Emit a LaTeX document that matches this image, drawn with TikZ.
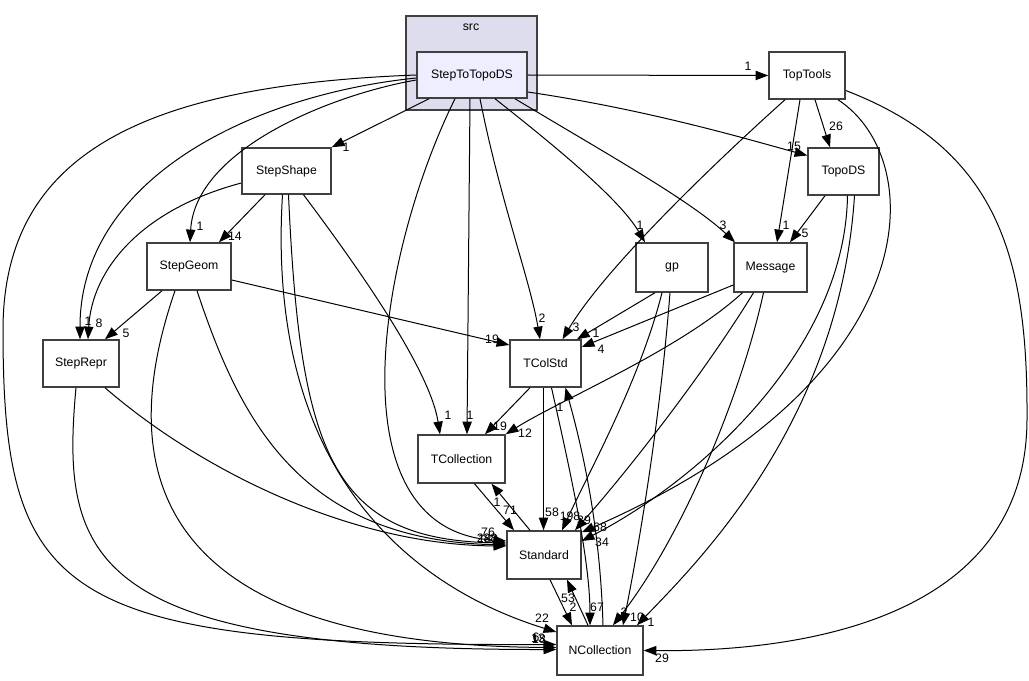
\documentclass[tikz,border=0pt]{standalone}
\usepackage{fontspec}
\setmainfont{Liberation Sans}
\usetikzlibrary{arrows.meta}
\definecolor{srcfill}{HTML}{DDDDEE}
\definecolor{sttfill}{HTML}{EEEEFF}
\definecolor{bord}{HTML}{404040}
\begin{document}
\begin{tikzpicture}[x=0.75pt,y=-0.75pt,
  box/.style={draw=bord,line width=1.1pt,fill=white,inner sep=0pt,font=\fontsize{9.2}{11}\selectfont},
  edge/.style={line width=0.75pt,-{Triangle[length=9.5pt,width=7pt]}},
  lbl/.style={font=\fontsize{9.2}{11}\selectfont,inner sep=0pt}]
\useasboundingbox (0,0) rectangle (1029,681);
\fill[white] (0,0) rectangle (1029,681);
% cluster
\node[draw=bord,line width=1.1pt,fill=srcfill,minimum width=98.25pt,minimum height=70.5pt,inner sep=0pt] (src) at (471.5,63) {};
\node[lbl] (srclbl) at (471,27) {src};
% nodes
\node[box,fill=sttfill,minimum width=82.5pt,minimum height=34.5pt] (stt) at (472,75) {StepToTopoDS};
\node[box,minimum width=57pt,minimum height=35.25pt] (tt) at (807,75.5) {TopTools};
\node[box,minimum width=66.75pt,minimum height=34.5pt] (ss) at (286.5,171) {StepShape};
\node[box,minimum width=53.25pt,minimum height=35.25pt] (td) at (843.5,171.5) {TopoDS};
\node[box,minimum width=63pt,minimum height=35.25pt] (sg) at (189,266.5) {StepGeom};
\node[box,minimum width=54pt,minimum height=36.75pt] (gp) at (672,267.5) {gp};
\node[box,minimum width=54.75pt,minimum height=36.75pt] (msg) at (770.5,267.5) {Message};
\node[box,minimum width=57pt,minimum height=35.25pt] (sr) at (81,363.5) {StepRepr};
\node[box,minimum width=53.25pt,minimum height=35.25pt] (tcs) at (545.5,363.5) {TColStd};
\node[box,minimum width=65.25pt,minimum height=36pt] (tcl) at (461.5,459) {TCollection};
\node[box,minimum width=55.5pt,minimum height=36pt] (std) at (544,555) {Standard};
\node[box,minimum width=64.5pt,minimum height=36.75pt] (nc) at (600,650.5) {NCollection};
% StepToTopoDS edges
\draw[edge] (stt.east) -- (tt.west);
\draw[edge] ([shift={(-43,0)}]stt.south) -- (ss.north east);
\draw[edge] ([shift={(0,17)}]stt.east) .. controls (650,110) and (750,140) .. ([shift={(0,-16)}]td.west);
\draw[edge] ([shift={(0,5)}]stt.west) .. controls (330,95) and (195,150) .. ([shift={(1,0)}]sg.north);
\draw[edge] ([shift={(0,3)}]stt.west) .. controls (250,95) and (80,180) .. ([shift={(-1,0)}]sr.north);
\draw[edge] (stt.west) .. controls (150,85) and (3,150) .. (3,330) .. controls (3,600) and (60,646) .. ([shift={(0,-6)}]nc.west);
\draw[edge] ([shift={(23,0)}]stt.south) .. controls (560,150) and (620,200) .. ([shift={(-27,0)}]gp.north);
\draw[edge] ([shift={(43,0)}]stt.south) .. controls (600,150) and (690,200) .. ([shift={(-35.5,0)}]msg.north);
\draw[edge] ([shift={(8,0)}]stt.south) .. controls (500,200) and (530,280) .. ([shift={(-5.5,0)}]tcs.north);
\draw[edge] ([shift={(-2,0)}]stt.south) -- ([shift={(5.5,0)}]tcl.north);
\draw[edge] ([shift={(-17,0)}]stt.south) .. controls (380,250) and (330,530) .. ([shift={(0,-14)}]std.west);
% TopTools edges
\draw[edge] ([shift={(8,0)}]tt.south) -- ([shift={(-13.5,0)}]td.north);
\draw[edge] ([shift={(-7,0)}]tt.south) -- ([shift={(6.5,0)}]msg.north);
\draw[edge] ([shift={(-22,0)}]tt.south) .. controls (740,140) and (610,260) .. ([shift={(17,0)}]tcs.north);
\draw[edge] ([shift={(31,0)}]tt.south) .. controls (930,160) and (930,380) .. ([shift={(0,2)}]std.north east);
\draw[edge] ([shift={(0,15)}]tt.east) .. controls (1000,150) and (1028,260) .. (1027,420) .. controls (1026,620) and (800,652) .. (nc.east);
% TopoDS edges
\draw[edge] ([shift={(-18.5,0)}]td.south) -- ([shift={(19.5,0)}]msg.north);
\draw[edge] ([shift={(4,0)}]td.south) .. controls (845,350) and (700,480) .. ([shift={(0,-14)}]std.east);
\draw[edge] ([shift={(11,0)}]td.south) .. controls (840,420) and (700,560) .. ([shift={(37,0)}]nc.north);
% StepShape edges
\draw[edge] ([shift={(-21.5,0)}]ss.south) -- ([shift={(30,0)}]sg.north);
\draw[edge] ([shift={(0,12)}]ss.west) .. controls (140,210) and (92,270) .. ([shift={(7,0)}]sr.north);
\draw[edge] ([shift={(17,0)}]ss.south) .. controls (360,270) and (430,370) .. ([shift={(-21.5,0)}]tcl.north);
\draw[edge] ([shift={(2,0)}]ss.south) .. controls (300,450) and (330,540) .. ([shift={(0,-12)}]std.west);
\draw[edge] ([shift={(-4,0)}]ss.south) .. controls (265,480) and (420,590) .. ([shift={(0,-18.5)}]nc.west);
% StepGeom edges
\draw[edge] ([shift={(-27,0)}]sg.south) -- ([shift={(24,0)}]sr.north);
\draw[edge] ([shift={(0,13.5)}]sg.east) -- ([shift={(0,-18.5)}]tcs.west);
\draw[edge] ([shift={(8,0)}]sg.south) .. controls (240,420) and (300,540) .. ([shift={(0,-10)}]std.west);
\draw[edge] ([shift={(-14,0)}]sg.south) .. controls (120,450) and (130,645) .. ([shift={(0,-3)}]nc.west);
% StepRepr edges
\draw[edge] ([shift={(24,0)}]sr.south) .. controls (200,470) and (350,545) .. ([shift={(0,-9)}]std.west);
\draw[edge] ([shift={(-5,0)}]sr.south) .. controls (60,560) and (90,650) .. ([shift={(0,-1)}]nc.west);
% gp edges
\draw[edge] ([shift={(-17,0)}]gp.south) -- ([shift={(31.5,0)}]tcs.north);
\draw[edge] ([shift={(-10,0)}]gp.south) .. controls (640,380) and (590,470) .. ([shift={(18,0)}]std.north);
\draw[edge] ([shift={(-2,0)}]gp.south) .. controls (660,420) and (640,540) .. ([shift={(23,0)}]nc.north);
% Message edges
\draw[edge] ([shift={(0,17.5)}]msg.west) -- ([shift={(0,-16.5)}]tcs.east);
\draw[edge] ([shift={(-28,0)}]msg.south) .. controls (680,350) and (560,400) .. (tcl.north east);
\draw[edge] ([shift={(-17,0)}]msg.south) .. controls (700,380) and (620,480) .. ([shift={(31,0)}]std.north);
\draw[edge] ([shift={(-7,0)}]msg.south) .. controls (740,400) and (680,540) .. ([shift={(13,0)}]nc.north);
% TColStd edges
\draw[edge] ([shift={(-15.5,0)}]tcs.south) -- ([shift={(23.5,0)}]tcl.north);
\draw[edge] ([shift={(-2,0)}]tcs.south) -- ([shift={(-0.5,0)}]std.north);
\draw[edge] ([shift={(6,0)}]tcs.south) .. controls (570,470) and (590,560) .. ([shift={(-10,0)}]nc.north);
\draw[edge] ([shift={(3,0)}]nc.north) .. controls (600,520) and (580,440) .. ([shift={(20,0)}]tcs.south);
% TCollection / Standard edges
\draw[edge] ([shift={(13,0)}]tcl.south) -- ([shift={(-30,0)}]std.north);
\draw[edge] ([shift={(-14,0)}]std.north) -- ([shift={(30,0)}]tcl.south);
\draw[edge] ([shift={(6,0)}]std.south) -- ([shift={(-28,0)}]nc.north);
\draw[edge] ([shift={(-12,0)}]nc.north) -- ([shift={(23,0)}]std.south);
% labels
\node[lbl] (l1) at (748,66) {1};
\node[lbl] (l2) at (346,147) {1};
\node[lbl] (l3) at (794,146) {15};
\node[lbl] (l4) at (836,126) {26};
\node[lbl] (l5) at (200,226) {1};
\node[lbl] (l6) at (235,236) {14};
\node[lbl] (l7) at (88,321) {1};
\node[lbl] (l8) at (99,323) {8};
\node[lbl] (l9) at (126,333) {5};
\node[lbl] (l10) at (640,225) {1};
\node[lbl] (l11) at (723,225) {3};
\node[lbl] (l12) at (786,225) {1};
\node[lbl] (l13) at (805,233) {5};
\node[lbl] (l14) at (542,318) {2};
\node[lbl] (l15) at (576,327) {3};
\node[lbl] (l16) at (596,333) {1};
\node[lbl] (l17) at (601,349) {4};
\node[lbl] (l18) at (492,339) {19};
\node[lbl] (l19) at (448,415) {1};
\node[lbl] (l20) at (470,415) {1};
\node[lbl] (l21) at (500,426) {19};
\node[lbl] (l22) at (525,433) {12};
\node[lbl] (l23) at (560,407) {1};
\node[lbl] (l24) at (497,502) {1};
\node[lbl] (l25) at (510,510) {71};
\node[lbl] (l26) at (552,512) {58};
\node[lbl] (l27) at (570,516) {198};
\node[lbl] (l28) at (584,520) {39};
\node[lbl] (l29) at (600,527) {68};
\node[lbl] (l30) at (602,542) {34};
\node[lbl] (l31) at (488,532) {76};
\node[lbl] (l32) at (487,538) {288};
\node[lbl] (l33) at (488,539) {183};
\node[lbl] (l34) at (568,598) {53};
\node[lbl] (l35) at (573,607) {2};
\node[lbl] (l36) at (597,607) {67};
\node[lbl] (l37) at (624,612) {2};
\node[lbl] (l38) at (637,617) {10};
\node[lbl] (l39) at (651,622) {1};
\node[lbl] (l40) at (542,618) {22};
\node[lbl] (l41) at (538,638) {13};
\node[lbl] (l42) at (539,639) {18};
\node[lbl] (l43) at (536,637) {6};
\node[lbl] (l44) at (662,658) {29};
\end{tikzpicture}
\end{document}
